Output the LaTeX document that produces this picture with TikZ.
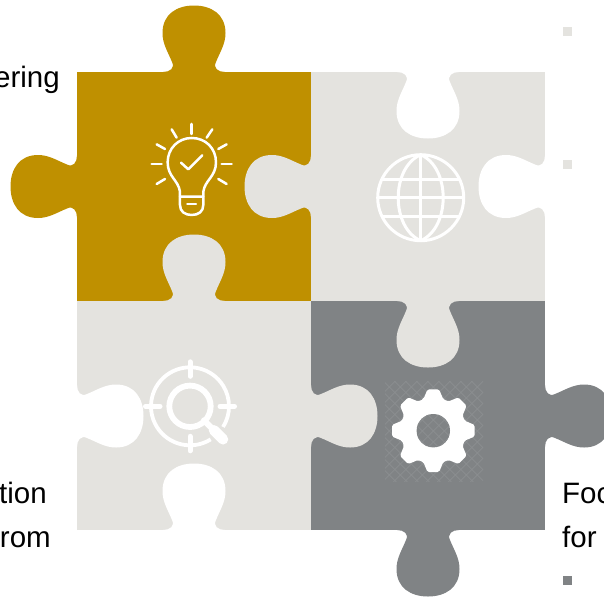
\documentclass[tikz,border=0pt]{standalone}
\usepackage{fontspec}
\setmainfont{Liberation Sans}
\definecolor{goldp}{HTML}{BF9000}
\definecolor{lightp}{HTML}{E4E3DF}
\definecolor{grayp}{HTML}{808385}
\definecolor{hatchp}{HTML}{8C8F91}
\newcommand{\puzzletab}[4]{%
  \fill[#4,shift={(#1,#2)},rotate=#3]
    (-31,1) -- (-31,0) .. controls (-24,0) and (-19,-4) .. (-22,-10)
    .. controls (-26,-20) and (-31.5,-28) .. (-31.5,-39)
    .. controls (-31.5,-58) and (-17,-66.5) .. (0,-66.5)
    .. controls (17,-66.5) and (31.5,-58) .. (31.5,-39)
    .. controls (31.5,-28) and (26,-20) .. (22,-10)
    .. controls (19,-4) and (24,0) .. (31,0) -- (31,1) -- cycle;}
\tikzset{
  lbl/.style={font=\fontsize{29.5}{29.5}\selectfont,text=black,inner sep=0pt},
  bullet/.style={inner sep=0pt,minimum size=9.3pt,shape=rectangle},
  iconline/.style={draw=white,line cap=round,line join=round,fill=none},
}
\begin{document}
\begin{tikzpicture}[x=1pt,y=-1pt]
\useasboundingbox (0,0) rectangle (604,598);
\clip (0,0) rectangle (604,598);
% pieces
\fill[goldp] (77,72) rectangle (311,301);
\fill[lightp] (311,72) rectangle (545,301);
\fill[lightp] (77,301) rectangle (311,530);
\fill[grayp] (311,301) rectangle (545,530);
% tabs and notches
\puzzletab{194}{72}{0}{goldp}
\puzzletab{77}{186.5}{90}{goldp}
\puzzletab{311}{186.5}{90}{lightp}
\puzzletab{194}{301}{0}{lightp}
\puzzletab{428}{72}{180}{white}
\puzzletab{545}{186.5}{90}{white}
\puzzletab{428}{301}{180}{lightp}
\puzzletab{77}{416}{-90}{white}
\puzzletab{311}{416}{-90}{lightp}
\puzzletab{194}{530}{0}{white}
\puzzletab{545}{416}{-90}{grayp}
\puzzletab{428}{530}{180}{grayp}
% bulb icon
\begin{scope}[x=0.3333pt,y=-0.3333pt,iconline,line width=2.5pt]
\draw (540,590) -- (540,575) .. controls (535,540) and (503,530) .. (503,487)
  .. controls (503,445) and (535,414) .. (575,414)
  .. controls (617,414) and (648,445) .. (648,487)
  .. controls (648,530) and (615,540) .. (610,575) -- (610,590);
\draw (540,590) -- (610,590) -- (610,615) .. controls (610,635) and (595,645) .. (575,645)
  .. controls (555,645) and (540,635) .. (540,615) -- cycle;
\draw (562,612) -- (588,612);
\draw (543,488) -- (565,508) -- (607,466);
\draw (575,372) -- (575,402);
\draw (515,388) -- (530,413);
\draw (637,388) -- (620,413);
\draw (470,433) -- (495,447);
\draw (680,433) -- (655,447);
\draw (455,492) -- (485,492);
\draw (665,492) -- (695,492);
\draw (470,552) -- (495,537);
\draw (680,552) -- (655,537);
\end{scope}
% globe icon
\begin{scope}[shift={(420.7,197.7)},iconline,line width=3pt]
\draw (0,0) circle (43);
\draw (0,-43) -- (0,43);
\draw (-43,0) -- (43,0);
\draw (-38.7,-18.7) -- (38.7,-18.7);
\draw (-38.7,18.7) -- (38.7,18.7);
\draw (0,-43) .. controls (-30,-30) and (-30,30) .. (0,43);
\draw (0,-43) .. controls (30,-30) and (30,30) .. (0,43);
\end{scope}
% target icon
\begin{scope}[shift={(190,406.3)},iconline]
\draw[line width=3.8pt,line cap=butt] (58:39) arc[start angle=58,end angle=392,radius=39];
\draw[line width=5.8pt] (0,0) circle (20.7);
\draw[line width=5pt] (0,-44.5) -- (0,-30);
\draw[line width=5pt] (0,30) -- (0,44.5);
\draw[line width=5pt] (-44.5,0) -- (-30,0);
\draw[line width=5pt] (30,0) -- (44.5,0);
\draw[line width=6pt] (14,14) -- (25,25);
\draw[line width=10.5pt] (24,24) -- (33,33);
\end{scope}
% gear icon
\begin{scope}
\clip (385,381) rectangle (483,481);
\foreach \k in {-8,...,8}{
  \draw[hatchp,line width=0.7pt] ({433.3+11*\k-60},371) -- ({433.3+11*\k+60},491);
  \draw[hatchp,line width=0.7pt] ({433.3+11*\k+60},371) -- ({433.3+11*\k-60},491);
}
\end{scope}
\begin{scope}[shift={(433.3,430.7)}]
\fill[white,rounded corners=1.5pt]
  (-90-17.5:33)
  \foreach \a in {-90,-45,0,45,90,135,180,225}{
    -- (\a-17.5:33) -- (\a-8:41.7) -- (\a+8:41.7) -- (\a+17.5:33)
  } -- cycle;
\end{scope}
\begin{scope}
\clip (433.3,430.7) circle (16.7);
\fill[grayp] (410,410) rectangle (456,452);
\foreach \k in {-8,...,8}{
  \draw[hatchp,line width=0.7pt] ({433.3+11*\k-60},371) -- ({433.3+11*\k+60},491);
  \draw[hatchp,line width=0.7pt] ({433.3+11*\k+60},371) -- ({433.3+11*\k-60},491);
}
\end{scope}
% bullets
\node[bullet,fill=lightp] (b1) at (567.5,31.5) {};
\node[bullet,fill=lightp] (b2) at (567.5,164.5) {};
\node[bullet,fill=grayp] (b3) at (567.5,580.5) {};
% texts
\node[lbl,anchor=base east] (t1) at (60,87.5) {ering};
\node[lbl,anchor=base east] (t2) at (47,503.5) {tion};
\node[lbl,anchor=base east] (t3) at (51,547.5) {rom};
\node[lbl,anchor=base west] (t4) at (562,503.5) {Foc};
\node[lbl,anchor=base west] (t5) at (562,547.5) {for};
\end{tikzpicture}
\end{document}
